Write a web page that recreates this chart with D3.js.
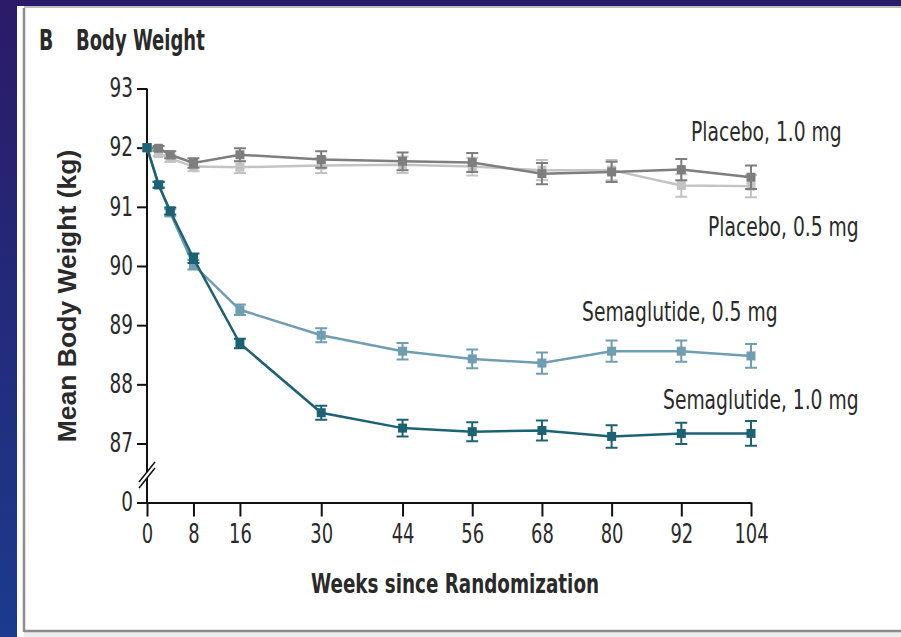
<!DOCTYPE html>
<html>
<head>
<meta charset="utf-8">
<script src="https://cdn.jsdelivr.net/npm/d3@7"></script>
<style>
  body { margin: 0; background: #241c6e; }
  svg { display: block; }
  text { font-family: "Liberation Sans Narrow", "DejaVu Sans Condensed", "Arial Narrow", sans-serif; fill: #2a2a2a; }
</style>
</head>
<body>
<svg id="chart"></svg>
<script>
// weeks since randomization
const weeks = [0, 2, 4, 8, 16, 30, 44, 56, 68, 80, 92, 104];
const weekTicks = [0, 8, 16, 30, 44, 56, 68, 80, 92, 104];
const weightTicks = [87, 88, 89, 90, 91, 92, 93];

// mean body weight (kg) per group, with error bar half-widths
const placebo05 = [92.0, 91.9, 91.82, 91.68, 91.67, 91.7, 91.71, 91.68, 91.62, 91.62, 91.36, 91.35];
const placebo05Err = [0, 0.04, 0.06, 0.08, 0.1, 0.13, 0.14, 0.15, 0.17, 0.17, 0.19, 0.19];
const placebo10 = [92.0, 91.99, 91.88, 91.74, 91.88, 91.8, 91.77, 91.75, 91.56, 91.59, 91.63, 91.5];
const placebo10Err = [0, 0.04, 0.06, 0.08, 0.11, 0.14, 0.15, 0.16, 0.18, 0.17, 0.18, 0.2];
const sema05 = [92.0, 91.38, 90.9, 90.02, 89.26, 88.83, 88.56, 88.43, 88.36, 88.56, 88.56, 88.48];
const sema05Err = [0, 0.05, 0.06, 0.08, 0.09, 0.12, 0.14, 0.16, 0.18, 0.18, 0.18, 0.2];
const sema10 = [92.0, 91.37, 90.93, 90.13, 88.69, 87.52, 87.26, 87.2, 87.22, 87.12, 87.17, 87.17];
const sema10Err = [0, 0.05, 0.06, 0.08, 0.08, 0.12, 0.14, 0.16, 0.17, 0.19, 0.18, 0.21];

const seriesNames = ["Placebo, 0.5 mg", "Placebo, 1.0 mg", "Semaglutide, 0.5 mg", "Semaglutide, 1.0 mg"];

const width = 901;
const height = 637;
const squeeze = 0.79; // horizontal squash to mimic the condensed journal font

const svg = d3.select("#chart")
  .attr("width", width)
  .attr("height", height)
  .attr("viewBox", `0 0 ${width} ${height}`);

// slide background + white card
const grad = svg.append("defs").append("linearGradient")
  .attr("id", "bg").attr("x1", 0).attr("y1", 0).attr("x2", 0).attr("y2", 1);
grad.append("stop").attr("offset", "0%").attr("stop-color", "#2b1a68");
grad.append("stop").attr("offset", "100%").attr("stop-color", "#1b3b8e");
svg.append("rect").attr("width", width).attr("height", height).attr("fill", "url(#bg)");

svg.append("rect").attr("x", 17).attr("y", 6).attr("width", width - 17).attr("height", height - 6).attr("fill", "#ffffff");
svg.append("rect").attr("x", 24).attr("y", 631).attr("width", width - 24).attr("height", 6).attr("fill", "#ececec");
svg.append("line").attr("x1", 24).attr("x2", width).attr("y1", 7).attr("y2", 7).attr("stroke", "#a8a8a8").attr("stroke-width", 1.5);
svg.append("line").attr("x1", 24).attr("x2", 24).attr("y1", 8).attr("y2", 632).attr("stroke", "#8c8c8c").attr("stroke-width", 2.5);
svg.append("line").attr("x1", 24).attr("x2", width).attr("y1", 631).attr("y2", 631).attr("stroke", "#8c8c8c").attr("stroke-width", 2.5);

// scales
const x = d3.scaleLinear().domain([0, 104]).range([147, 751]);
const y = d3.scaleLinear().domain([87, 93]).range([443.5, 88.5]);
const yZero = d3.scaleLinear().domain([0, 1]).range([502.5, 442.5]);

const colors = ["#c3c3c3", "#7e7e7e", "#6f9db1", "#1d6274"];
const groups = [
  { mean: placebo05, err: placebo05Err },
  { mean: placebo10, err: placebo10Err },
  { mean: sema05, err: sema05Err },
  { mean: sema10, err: sema10Err }
];

// place a squashed text at (px, py)
function addText(px, py, str, size, sx, weight) {
  return svg.append("text")
    .attr("transform", `translate(${px},${py}) scale(${sx},1)`)
    .style("font-size", size + "px")
    .style("font-weight", weight || "normal")
    .text(str);
}

// title
addText(39, 50, "B", 29, 0.72, "bold");
addText(76, 50, "Body Weight", 29, 0.69, "bold");

// y axis
const tickLen = 10, tickPad = 4;
const yAxis = svg.append("g")
  .attr("transform", `translate(${x(0)},0)`)
  .call(d3.axisLeft(y).tickValues(weightTicks).tickSize(tickLen).tickPadding(tickPad).tickFormat(d3.format("d")));
yAxis.select(".domain").remove();
const yAxisZero = svg.append("g")
  .attr("transform", `translate(${x(0)},0)`)
  .call(d3.axisLeft(yZero).tickValues([0]).tickSize(tickLen).tickPadding(tickPad).tickFormat(d3.format("d")));
yAxisZero.select(".domain").remove();

svg.append("line")
  .attr("x1", x(0)).attr("x2", x(0))
  .attr("y1", y(93)).attr("y2", yZero(0))
  .attr("stroke", "#111").attr("stroke-width", 2);

// axis break
const breakY = 474;
svg.append("path")
  .attr("d", `M${x(0) - 8},${breakY + 8} L${x(0) + 8},${breakY - 12} L${x(0) + 8},${breakY - 6} L${x(0) - 8},${breakY + 14} Z`)
  .attr("fill", "#fff");
[0, 6].forEach(off => {
  svg.append("line")
    .attr("x1", x(0) - 8).attr("y1", breakY + 8 + off)
    .attr("x2", x(0) + 8).attr("y2", breakY - 12 + off)
    .attr("stroke", "#111").attr("stroke-width", 1.5);
});

// x axis
const xAxis = svg.append("g")
  .attr("transform", `translate(0,${yZero(0)})`)
  .call(d3.axisBottom(x).tickValues(weekTicks).tickSize(14).tickPadding(8).tickSizeOuter(0));
xAxis.select(".domain").attr("stroke", "#111").attr("stroke-width", 2);

[yAxis, yAxisZero, xAxis].forEach(g => {
  g.selectAll(".tick line").attr("stroke", "#111").attr("stroke-width", 2);
  g.selectAll(".tick text")
    .style("font-family", "'Liberation Sans Narrow', 'DejaVu Sans Condensed', sans-serif")
    .style("font-size", "26px").attr("fill", "#2a2a2a");
});
xAxis.selectAll(".tick text").attr("transform", `scale(${squeeze * 0.97},1)`);
[yAxis, yAxisZero].forEach(g => {
  g.selectAll(".tick text")
    .attr("x", 0)
    .attr("transform", `translate(${-(tickLen + tickPad)},0) scale(${squeeze},1)`);
});

// axis titles
svg.append("text")
  .attr("transform", `translate(76,296) rotate(-90)`)
  .attr("text-anchor", "middle")
  .style("font-family", "'Liberation Sans', Arial, sans-serif")
  .style("font-size", "26.5px").style("font-weight", "bold")
  .text("Mean Body Weight (kg)");

addText(455, 593, "Weeks since Randomization", 27, 0.755, "bold")
  .attr("text-anchor", "middle");

// lines, error bars, markers
const line = d3.line().x((d, i) => x(weeks[i])).y(d => y(d));
const cap = 6;
const marker = 9;

groups.forEach((g, k) => {
  const layer = svg.append("g");
  layer.append("path")
    .datum(g.mean)
    .attr("d", line)
    .attr("fill", "none")
    .attr("stroke", colors[k])
    .attr("stroke-width", 2.5);

  const pts = layer.selectAll("g.pt")
    .data(g.mean.map((m, i) => ({ wk: weeks[i], m, e: g.err[i] })))
    .enter().append("g").attr("class", "pt");

  pts.filter(d => d.e > 0).append("path")
    .attr("d", d => {
      const cx = x(d.wk), lo = y(d.m - d.e), hi = y(d.m + d.e);
      return `M${cx},${lo}V${hi}M${cx - cap},${lo}H${cx + cap}M${cx - cap},${hi}H${cx + cap}`;
    })
    .attr("fill", "none")
    .attr("stroke", colors[k])
    .attr("stroke-width", 2);

  pts.append("rect")
    .attr("x", d => x(d.wk) - marker / 2)
    .attr("y", d => y(d.m) - marker / 2)
    .attr("width", marker)
    .attr("height", marker)
    .attr("fill", colors[k]);
});

// series labels
const labelPos = [
  { x: 708, y: 236 },
  { x: 691, y: 141 },
  { x: 582, y: 321 },
  { x: 663, y: 409 }
];
seriesNames.forEach((name, i) => {
  addText(labelPos[i].x, labelPos[i].y, name, 26, 0.80).attr("class", "series");
});
</script>
</body>
</html>
